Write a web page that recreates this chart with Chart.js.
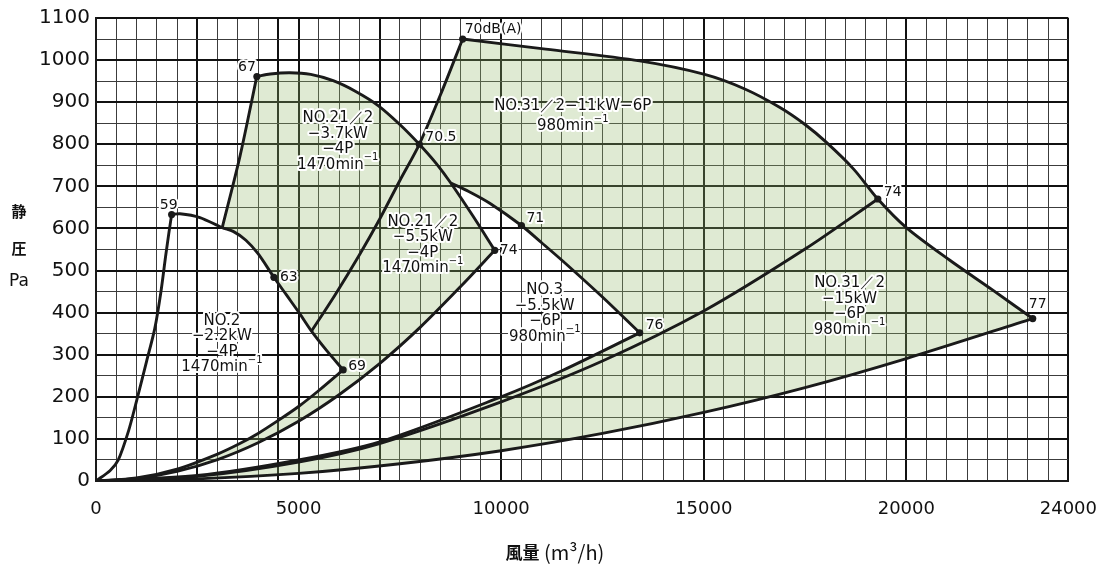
<!DOCTYPE html>
<html lang="ja">
<head>
<meta charset="UTF-8" />
<title>送風機 性能曲線</title>
<script src="https://cdn.jsdelivr.net/npm/chart.js@4.4.0/dist/chart.umd.min.js"></script>
<style>
  body { margin: 0; background: #fff; }
  #wrap { width: 1115px; height: 564px; }
</style>
</head>
<body>
<div id="wrap"><canvas id="chart"></canvas></div>
<script>
// 風量 (m3/h) と 静圧 (Pa) の読み取り値 [x, y]
const xTickLabels = [0, 5000, 10000, 15000, 20000, 24000];
const xBoldLines = [0, 2500, 4500, 5000, 7000, 10000, 15000, 20000, 24000];

// NO.2 の左側の抵抗曲線
const steepCurve = [[0,0],[350,25],[550,50],[800,118],[1000,190],[1250,285],[1450,362],[1600,448],[1720,535],[1800,590],[1867,633]];
// NO.2 2.2kW 1470min-1
const no2Fan = [[1867,633],[2072,635],[2565,626],[3116,602],[3386,593],[3700,572],[4000,540],[4391,484],[4700,442],[5032,397],[5319,356],[5700,309],[6100,264]];
const sys69 = [[0,0],[1000,7],[2000,28],[3000,64],[3550,89],[4000,113],[4500,144],[5000,177],[5500,215],[6100,264]];
// NO.2 1/2 1470min-1
const leftLine21 = [[3116,602],[3550,770],[3971,962]];
const no21Fan = [[3971,961],[4300,967],[4785,970],[5300,966],[5853,951],[6400,926],[6964,892],[7499,847],[7980,800],[8400,754],[8757,708],[9300,630],[9842,548]];
const sys74a = [[0,0],[1000,6],[2000,23],[3000,51],[4000,91],[5000,142],[6000,205],[7000,279],[8000,365],[9000,462],[9842,548]];
const sysL1 = [[5319,356],[5900,442],[6500,537],[7000,622],[7500,714],[7980,800],[8500,917],[9050,1050]];
// NO.3 5.5kW 980min-1
const no3Fan = [[8757,708],[9200,688],[9719,660],[10500,607],[11000,566],[11527,522],[12500,437],[13419,352]];
const sys76 = [[0,0],[2500,13],[5000,50],[7000,93],[10000,200],[11500,262],[13419,352]];
// NO.3 1/2 980min-1
const no31Fan = [[9050,1050],[11100,1026],[13419,998],[15022,966],[16000,932],[16872,888],[17500,847],[18022,805],[18700,741],[19297,670],[20000,602],[21066,525],[22126,454],[23120,386]];
const sys74b = [[0,0],[2500,11],[5000,45],[7000,89],[10000,188],[12500,285],[15022,405],[17500,551],[19297,670]];
const sys77 = [[0,0],[2500,5],[5000,18],[7500,41],[10000,72],[12500,113],[15000,163],[17500,222],[20000,291],[23120,386]];

// 騒音値の点
const markX = [1867, 3971, 4391, 6100, 7980, 9050, 10500, 9842, 13419, 19297, 23120];
const markY = [633, 961, 484, 264, 800, 1050, 607, 548, 352, 670, 386];
const markText = ['59', '67', '63', '69', '70.5', '70dB(A)', '71', '74', '76', '74', '77'];
const markOffset = [[-3,-9,'center'],[-10,-9,'center'],[6,0,'left'],[5,-4,'left'],[6,-7,'left'],[2,-10,'left'],[5,-7,'left'],[5,0,'left'],[6,-7,'left'],[6,-7,'left'],[5,-14,'center']];

const notes = [
  { x: 3108, y: 380, gap: 15.5, lines: ['NO.2', '−2.2kW', '−4P', '1470min⁻¹'] },
  { x: 5969, y: 862, gap: 15.5, lines: ['NO.21／2', '−3.7kW', '−4P', '1470min⁻¹'] },
  { x: 8066, y: 616, gap: 15.5, lines: ['NO.21／2', '−5.5kW', '−4P', '1470min⁻¹'] },
  { x: 11075, y: 453, gap: 15.5, lines: ['NO.3', '−5.5kW', '−6P', '980min⁻¹'] },
  { x: 11766, y: 890, gap: 20, lines: ['NO.31／2−11kW−6P', '980min⁻¹'] },
  { x: 18599, y: 470, gap: 15.5, lines: ['NO.31／2', '−15kW', '−6P', '980min⁻¹'] }
];

const pts = arr => arr.map(p => ({ x: p[0], y: p[1] }));
const rev = arr => arr.slice().reverse();

// 網掛け部分は上の曲線をつないだ閉じた形
const areaNo21 = [].concat(
  sys69,
  rev(no2Fan.filter(p => p[0] >= 3116)).slice(1),
  leftLine21.slice(1),
  no21Fan.slice(1),
  rev(sys74a).slice(1)
);
const areaNo31 = [].concat(
  sys76,
  rev(no3Fan).slice(1),
  rev(no21Fan.filter(p => p[0] >= 7980 && p[0] < 8757)),
  sysL1.filter(p => p[0] > 7980),
  no31Fan.slice(1),
  rev(sys77).slice(1)
);

const shade = 'rgba(150,185,110,0.30)';
const ink = '#1a1a1a';

function area(data) {
  return { data: pts(data), fill: 'shape', backgroundColor: shade, borderWidth: 0, pointRadius: 0, tension: 0, order: 10 };
}
function curve(data) {
  return { data: pts(data), fill: false, borderColor: ink, borderWidth: 2.9, pointRadius: 0, tension: 0.3, order: 2 };
}

function halo(ctx, text, x, y, align) {
  ctx.textAlign = align;
  ctx.lineJoin = 'round';
  ctx.lineWidth = 4;
  ctx.strokeStyle = '#fff';
  ctx.strokeText(text, x, y);
  ctx.fillStyle = '#111';
  ctx.fillText(text, x, y);
}

// "min⁻¹" の肩字は小さく上に寄せて書く
function noteLine(ctx, text, x, y) {
  const base = '15px "DejaVu Sans"';
  const sup = '10px "DejaVu Sans"';
  if (!text.endsWith('⁻¹')) {
    ctx.font = base;
    halo(ctx, text, x, y, 'center');
    return;
  }
  const main = text.slice(0, -2);
  ctx.font = base;
  const w = ctx.measureText(main).width;
  ctx.font = sup;
  const sw = ctx.measureText('−1').width;
  const left = x - (w + sw) / 2;
  ctx.font = base;
  halo(ctx, main, left, y, 'left');
  ctx.font = sup;
  halo(ctx, '−1', left + w, y - 7, 'left');
}

const textPlugin = {
  id: 'chartTexts',
  afterDatasetsDraw(chart) {
    const { ctx, scales: { x, y }, chartArea } = chart;
    ctx.save();
    ctx.textBaseline = 'middle';

    notes.forEach(n => {
      const px = x.getPixelForValue(n.x);
      const py = y.getPixelForValue(n.y);
      n.lines.forEach((t, i) => noteLine(ctx, t, px, py + i * n.gap));
    });

    ctx.font = '14px "DejaVu Sans"';
    markText.forEach((t, i) => {
      const o = markOffset[i];
      halo(ctx, t, x.getPixelForValue(markX[i]) + o[0], y.getPixelForValue(markY[i]) + o[1], o[2]);
    });

    // 軸の名前
    ctx.fillStyle = '#111';
    ctx.textAlign = 'center';
    ctx.font = '600 15px "Noto Sans CJK JP"';
    ctx.fillText('静', 19, 211);
    ctx.fillText('圧', 19, 248);
    ctx.font = '17px "DejaVu Sans"';
    ctx.fillText('Pa', 19, 282);

    const t1 = '風量', t2 = ' (m³/h)';
    const f1 = '700 17px "Noto Sans CJK JP"', f2 = '20px "Noto Sans CJK JP"';
    ctx.font = f1;
    const w1 = ctx.measureText(t1).width;
    ctx.font = f2;
    const w2 = ctx.measureText(t2).width;
    const cx = chartArea.left + 0.472 * (chartArea.right - chartArea.left);
    ctx.textAlign = 'left';
    ctx.font = f1;
    ctx.fillText(t1, cx - (w1 + w2) / 2, 553);
    ctx.font = f2;
    ctx.fillText(t2, cx - (w1 + w2) / 2 + w1, 552);
    ctx.restore();
  }
};

const ctx = document.getElementById('chart').getContext('2d');
new Chart(ctx, {
  type: 'line',
  data: {
    datasets: [
      {
        data: markX.map((v, i) => ({ x: v, y: markY[i] })),
        showLine: false, pointRadius: 3.6, pointBackgroundColor: ink, pointBorderWidth: 0, order: 1
      },
      curve(steepCurve), curve(no2Fan), curve(sys69),
      curve(leftLine21), curve(no21Fan), curve(sys74a), curve(sysL1),
      curve(no3Fan), curve(sys76),
      curve(no31Fan), curve(sys74b), curve(sys77),
      area(areaNo21), area(areaNo31)
    ]
  },
  options: {
    responsive: true,
    maintainAspectRatio: false,
    animation: false,
    layout: { padding: { top: 15, right: 46, bottom: 0, left: 0 } },
    plugins: { legend: { display: false }, tooltip: { enabled: false } },
    scales: {
      x: {
        type: 'linear', min: 0, max: 24000,
        afterFit: s => { s.height = 83; },
        border: { display: true, color: ink, width: 2 },
        grid: {
          drawTicks: false,
          color: c => xBoldLines.includes(c.tick.value) ? '#111' : '#3c3c3c',
          lineWidth: c => xBoldLines.includes(c.tick.value) ? 2 : 1
        },
        ticks: {
          stepSize: 500, autoSkip: false, maxRotation: 0, minRotation: 0, padding: 18,
          color: '#111', font: { family: 'DejaVu Sans', size: 18 },
          callback: v => xTickLabels.includes(v) ? String(v) : ''
        }
      },
      y: {
        min: 0, max: 1100,
        afterFit: s => { s.width = 96; },
        border: { display: true, color: ink, width: 2 },
        grid: {
          drawTicks: false,
          color: c => c.tick.value % 100 === 0 ? '#111' : '#3c3c3c',
          lineWidth: c => c.tick.value % 100 === 0 ? 2 : 1
        },
        ticks: {
          stepSize: 50, autoSkip: false, padding: 6,
          color: '#111', font: { family: 'DejaVu Sans', size: 20 },
          callback: v => v % 100 === 0 ? String(v) : ''
        }
      }
    }
  },
  plugins: [textPlugin]
});
</script>
</body>
</html>
